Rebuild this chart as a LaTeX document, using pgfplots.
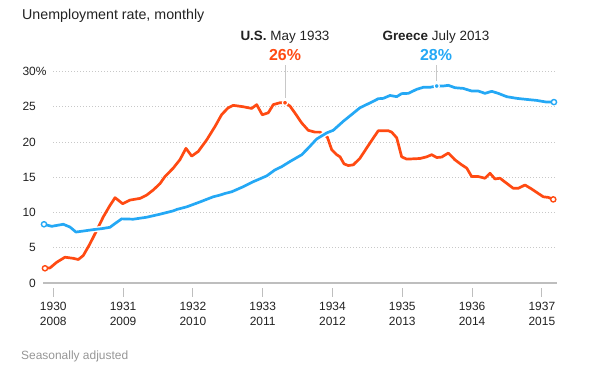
\documentclass[border=0pt]{standalone}
\usepackage{pgfplots}
\pgfplotsset{compat=1.18}
\usepackage{pgfplotstable}
\usepackage{fontspec}
\setmainfont{Liberation Sans}
\definecolor{usred}{RGB}{255,74,18}
\definecolor{grblue}{RGB}{36,168,245}
\definecolor{gridc}{RGB}{200,200,200}
\definecolor{axisc}{RGB}{190,190,190}
\definecolor{txt}{RGB}{34,34,34}
\definecolor{note}{RGB}{150,150,150}

\pgfplotstableread{
t v
-0.119 2.09
-0.047 2.14
0.049 2.94
0.168 3.66
0.287 3.50
0.358 3.33
0.430 3.90
0.526 5.57
0.622 7.47
0.716 9.37
0.812 11.0
0.885 12.1
0.994 11.25
1.099 11.76
1.242 12.0
1.338 12.47
1.433 13.2
1.529 14.1
1.600 15.1
1.719 16.3
1.815 17.5
1.901 19.1
1.983 18.0
2.077 18.66
2.198 20.3
2.317 22.2
2.413 23.9
2.507 24.86
2.579 25.2
2.722 25.0
2.842 24.76
2.914 25.3
2.994 23.86
3.080 24.14
3.152 25.3
3.248 25.57
3.320 25.57
3.391 25.1
3.463 24.1
3.559 22.7
3.653 21.66
3.749 21.4
3.821 21.4
3.926 20.7
3.989 18.9
4.060 18.2
4.108 17.9
4.165 16.9
4.226 16.66
4.298 16.76
4.394 17.7
4.537 19.86
4.656 21.6
4.799 21.6
4.848 21.4
4.920 20.6
4.991 17.9
5.063 17.57
5.254 17.66
5.350 17.9
5.421 18.2
5.493 17.8
5.564 17.86
5.659 18.43
5.755 17.47
5.851 16.76
5.923 16.3
5.994 15.1
6.089 15.1
6.185 14.86
6.256 15.57
6.328 14.76
6.400 14.86
6.496 14.14
6.590 13.43
6.662 13.43
6.758 13.9
6.854 13.33
6.948 12.7
7.020 12.23
7.092 12.14
7.163 11.86
}\usdata

\pgfplotstableread{
t v
-0.133 8.33
-0.023 8.04
0.143 8.33
0.239 7.94
0.325 7.23
0.430 7.37
0.573 7.57
0.693 7.71
0.812 7.90
0.884 8.43
0.980 9.10
1.146 9.05
1.338 9.33
1.529 9.76
1.719 10.23
1.768 10.43
1.911 10.80
2.102 11.50
2.292 12.23
2.388 12.47
2.460 12.70
2.556 12.94
2.722 13.66
2.865 14.37
3.057 15.19
3.176 16.04
3.272 16.50
3.391 17.23
3.559 18.19
3.653 19.14
3.774 20.43
3.917 21.29
4.011 21.66
4.155 22.94
4.275 23.90
4.394 24.86
4.562 25.66
4.656 26.14
4.728 26.19
4.824 26.60
4.920 26.43
4.991 26.86
5.086 26.90
5.206 27.47
5.301 27.76
5.397 27.76
5.493 27.94
5.587 27.94
5.659 28.04
5.755 27.70
5.874 27.60
5.994 27.23
6.089 27.23
6.185 26.90
6.281 27.19
6.375 26.90
6.496 26.43
6.639 26.19
6.782 26.04
6.925 25.90
7.069 25.66
7.173 25.66
}\grdata

\begin{document}
\begin{tikzpicture}[x=1bp,y=1bp]
\path[use as bounding box] (0,0) rectangle (592,379);
\begin{axis}[
  at={(43.3bp,96bp)}, anchor=south west,
  scale only axis, width=514bp, height=211.5bp,
  xmin=-0.143, xmax=7.221, ymin=0, ymax=30,
  axis line style={draw=none},
  major tick length=0pt,
  xtick={0,1,2,3,4,5,6,7},
  xticklabels={{1930\\2008},{1931\\2009},{1932\\2010},{1933\\2011},{1934\\2012},{1935\\2013},{1936\\2014},{1937\\2015}},
  xticklabel style={align=center, font=\fontsize{12}{15}\selectfont, text=txt, inner sep=0pt, anchor=north, yshift=-19bp},
  ytick={0,5,10,15,20,25,30},
  yticklabels={0,5,10,15,20,25,{30\rlap{\%}}},
  yticklabel style={font=\fontsize{12}{14}\selectfont, text=txt, inner sep=0pt, anchor=east, xshift=-7.3bp},
  clip=false,
  /pgf/number format/assume math mode=true,
]
\pgfplotsinvokeforeach{5,10,15,20,25,30}{
  \draw[gridc, line width=0.8bp, dash pattern=on 1bp off 2bp] (axis cs:0,#1) -- (axis cs:7.21,#1);
}
\draw[axisc, line width=1.5bp] (axis cs:-0.143,0) -- (axis cs:7.221,0);
\pgfplotsinvokeforeach{0,1,2,3,4,5,6,7}{
  \draw[axisc, line width=1bp] ([yshift=-5bp]axis cs:#1,0) -- ([yshift=-13.5bp]axis cs:#1,0);
}
\draw[gridc, line width=1bp] (axis cs:3.32,30.92) -- (axis cs:3.32,26.3);
\draw[gridc, line width=1bp] (axis cs:5.493,30.92) -- (axis cs:5.493,28.6);

\addplot[usred, line width=2.7bp, line join=round, line cap=round] table[x=t,y=v] {\usdata};
\addplot[white, line width=5.5bp, line join=round] table[x=t,y=v] {\grdata};
\addplot[grblue, line width=2.7bp, line join=round, line cap=round] table[x=t,y=v] {\grdata};

\addplot[only marks, mark=*, mark size=2.6bp, mark options={fill=white, draw=usred, line width=1.4bp}] coordinates {(-0.119,2.09) (7.163,11.86)};
\addplot[only marks, mark=*, mark size=2.6bp, mark options={fill=white, draw=grblue, line width=1.4bp}] coordinates {(-0.133,8.33) (7.173,25.66)};
\addplot[only marks, mark=*, mark size=2.6bp, mark options={fill=usred, draw=white, line width=1.2bp}] coordinates {(3.32,25.57)};
\addplot[only marks, mark=*, mark size=2.6bp, mark options={fill=grblue, draw=white, line width=1.2bp}] coordinates {(5.493,27.94)};
\end{axis}

\node[anchor=base west, inner sep=0pt, text=txt, font=\fontsize{14.3}{16}\selectfont] at (22,359.5) {Unemployment rate, monthly};
\node[anchor=base, inner sep=0pt, text=txt, font=\fontsize{13.5}{15}\selectfont] at (285,338.3) {\textbf{U.S.} May 1933};
\node[anchor=base, inner sep=0pt, text=usred, font=\fontsize{16}{18}\selectfont\bfseries] at (285,318.3) {26\%};
\node[anchor=base, inner sep=0pt, text=txt, font=\fontsize{13.5}{15}\selectfont] at (436,338.3) {\textbf{Greece} July 2013};
\node[anchor=base, inner sep=0pt, text=grblue, font=\fontsize{16}{18}\selectfont\bfseries] at (436,318.3) {28\%};
\node[anchor=base west, inner sep=0pt, text=note, font=\fontsize{12}{14}\selectfont] at (21,19.5) {Seasonally adjusted};
\end{tikzpicture}
\end{document}
